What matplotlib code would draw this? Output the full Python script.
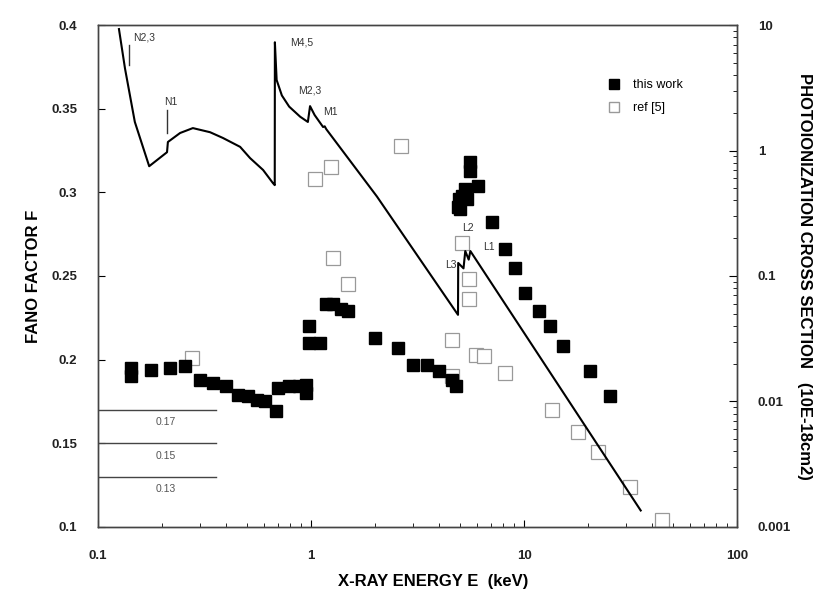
import matplotlib.pyplot as plt
from matplotlib.lines import Line2D
from matplotlib.ticker import LogLocator, NullFormatter

plt.rcParams['font.family'] = ['Liberation Sans', 'DejaVu Sans']

# Fano factor, this work (energy keV, F)
this_E = [0.143, 0.143, 0.177, 0.218, 0.256, 0.30, 0.346, 0.40, 0.454, 0.506,
          0.557, 0.607, 0.685, 0.70, 0.79, 0.88, 0.95, 0.95,
          0.98, 0.98, 1.1, 1.18, 1.27, 1.39, 1.5,
          2.0, 2.55, 3.0, 3.5, 4.0, 4.6, 4.8,
          4.9, 4.95, 5.0, 5.1, 5.3, 5.4, 5.55, 5.55, 6.05,
          7.1, 8.1, 9.1, 10.1, 11.7, 13.2, 15.3, 20.3, 25.4]
this_F = [0.195, 0.190, 0.194, 0.195, 0.196, 0.188, 0.186, 0.184, 0.179, 0.178,
          0.176, 0.175, 0.169, 0.183, 0.184, 0.184, 0.185, 0.180,
          0.220, 0.210, 0.210, 0.233, 0.233, 0.230, 0.229,
          0.213, 0.207, 0.197, 0.197, 0.193, 0.188, 0.184,
          0.291, 0.296, 0.290, 0.298, 0.302, 0.296, 0.318, 0.313, 0.304,
          0.282, 0.266, 0.255, 0.240, 0.229, 0.220, 0.208, 0.193, 0.178]

# Fano factor, ref [5]
ref_E = [0.276, 1.05, 1.24, 1.27, 1.5, 2.65, 4.6, 4.6, 5.1, 5.5, 5.5,
         5.95, 6.5, 8.1, 13.6, 17.9, 22.2, 31.6, 44.5]
ref_F = [0.201, 0.308, 0.315, 0.261, 0.245, 0.328, 0.212, 0.190, 0.270, 0.248, 0.236,
         0.203, 0.202, 0.192, 0.170, 0.157, 0.145, 0.124, 0.104]

# photoionization cross section (10E-18 cm2)
xs_E = [0.1255, 0.134, 0.149, 0.174, 0.211, 0.213, 0.243, 0.279, 0.336, 0.386,
        0.465, 0.518, 0.596, 0.663, 0.676, 0.677, 0.69, 0.73, 0.79, 0.89, 0.967,
        0.99, 1.04, 1.14, 1.16, 1.18, 2.04, 4.9, 4.91, 5.2, 5.3, 5.5, 5.6, 35.3]
xs_S = [9.3, 4.5, 1.69, 0.75, 0.97, 1.17, 1.38, 1.51, 1.40, 1.26,
        1.07, 0.87, 0.70, 0.55, 0.53, 7.3, 3.65, 2.75, 2.24, 1.86, 1.69,
        2.26, 1.92, 1.54, 1.56, 1.48, 0.43, 0.049, 0.127, 0.115, 0.158, 0.135, 0.158, 0.00135]

# edge labels (left energy, bottom sigma, text)
edge_E = [0.146, 0.205, 0.796, 0.869, 1.14, 4.26, 5.12, 6.43]
edge_S = [7.3, 2.22, 6.6, 2.77, 1.85, 0.112, 0.220, 0.155]
edge_txt = ['N2,3', 'N1', 'M4,5', 'M2,3', 'M1', 'L3', 'L2', 'L1']

# small vertical markers under N2,3 and N1
mark_E = [0.140, 0.211]
mark_lo = [4.8, 1.38]
mark_hi = [6.9, 2.1]

# reference lines at lower left
ref_lines = [0.17, 0.15, 0.13]
ref_xmax = 0.36

fig = plt.figure(figsize=(8.3, 5.98), dpi=100)
ax = fig.add_axes([0.118, 0.119, 0.770, 0.839])
ax2 = ax.twinx()

ax.set_xscale('log')
ax.set_xlim(0.1, 100)
ax.set_ylim(0.1, 0.4)
ax2.set_yscale('log')
ax2.set_ylim(0.001, 10)

ax.plot(this_E, this_F, 's', color='black', ms=9, zorder=3)
ax.plot(ref_E, ref_F, 's', mfc='white', mec='#999999', mew=0.9, ms=10, zorder=2)

for v in ref_lines:
    ax.plot([0.1, ref_xmax], [v, v], color='#444444', lw=1.0)
    ax.text(0.209, v - 0.0075, '%.2f' % v, fontsize=7.5, color='#555555',
            ha='center', va='center')

ax2.plot(xs_E, xs_S, color='black', lw=1.5)
for e, lo, hi in zip(mark_E, mark_lo, mark_hi):
    ax2.plot([e, e], [lo, hi], color='#333333', lw=1.0)
for e, s, t in zip(edge_E, edge_S, edge_txt):
    ax2.text(e, s, t, fontsize=7.5, color='#333333', ha='left', va='bottom')

ax.set_yticks([0.1, 0.15, 0.2, 0.25, 0.3, 0.35, 0.4])
ax.set_yticklabels(['0.1', '0.15', '0.2', '0.25', '0.3', '0.35', '0.4'])
ax.set_xticks([0.1, 1, 10, 100])
ax.set_xticklabels(['0.1', '1', '10', '100'])
ax.xaxis.set_minor_locator(LogLocator(base=10, subs=range(2, 10)))
ax.xaxis.set_minor_formatter(NullFormatter())
ax2.set_yticks([0.001, 0.01, 0.1, 1, 10])
ax2.set_yticklabels(['0.001', '0.01', '0.1', '1', '10'])
ax2.yaxis.set_minor_locator(LogLocator(base=10, subs=range(2, 10)))
ax2.yaxis.set_minor_formatter(NullFormatter())

ax.tick_params(axis='x', which='major', direction='in', length=5, pad=17,
               labelsize=9.5, top=False)
ax.tick_params(axis='x', which='minor', direction='in', length=3, top=False)
ax.tick_params(axis='y', which='major', direction='in', length=5, pad=15,
               labelsize=9.5, right=False)
ax2.tick_params(axis='y', which='major', direction='in', length=6, pad=15,
                labelsize=9.5)
ax2.tick_params(axis='y', which='minor', direction='in', length=3)
for lab in ax.get_xticklabels() + ax.get_yticklabels() + ax2.get_yticklabels():
    lab.set_fontweight('bold')
    lab.set_color('#222222')

for a in (ax, ax2):
    for sp in a.spines.values():
        sp.set_color('#444444')
        sp.set_linewidth(1.0)

ax.set_xlabel('X-RAY ENERGY E  (keV)', fontsize=12, fontweight='bold', labelpad=8)
ax.xaxis.label.set_x(0.525)
ax.set_ylabel('FANO FACTOR F', fontsize=12, fontweight='bold', labelpad=7)
ax2.set_ylabel('PHOTOIONIZATION CROSS SECTION   (10E-18cm2)', fontsize=12,
               fontweight='bold', rotation=270, labelpad=4, va='bottom')

handles = [Line2D([], [], marker='s', ls='', color='black', ms=7),
           Line2D([], [], marker='s', ls='', mfc='white', mec='#999999', ms=7)]
ax2.legend(handles, ['this work', 'ref [5]'], loc='upper left',
           bbox_to_anchor=(0.77, 0.915), frameon=False, fontsize=9,
           handletextpad=0.5, labelspacing=0.9)

fig.savefig('out.png', dpi=100)
